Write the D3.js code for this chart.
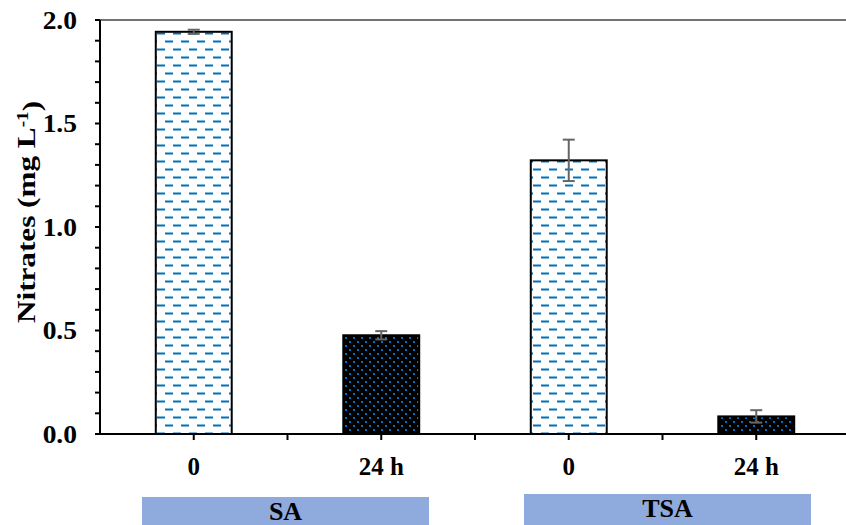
<!DOCTYPE html>
<html>
<head>
<meta charset="utf-8">
<script src="https://cdn.jsdelivr.net/npm/d3@7"></script>
<style>
  html, body { margin: 0; padding: 0; background: #fff; }
  svg { display: block; }
  text { font-family: "Liberation Serif", "Times New Roman", serif; font-weight: bold; fill: #000; }
</style>
</head>
<body>
<svg id="chart" width="846" height="525"></svg>
<script>
// Nitrate concentration at 0 h and 24 h for the two treatments
const categories = ["0", "24 h", "0", "24 h"];
const groups = ["SA", "TSA"];
const values = [1.943, 0.477, 1.322, 0.085];
const errors = [0.01, 0.02, 0.10, 0.03];
const yTicks = [0.0, 0.5, 1.0, 1.5, 2.0];

const svg = d3.select("#chart");
const plotLeft = 100, plotRight = 850, plotTop = 20, plotBottom = 434;

const idx = categories.map((_, i) => i);
const x = d3.scaleBand().domain(idx).range([plotLeft, plotRight])
  .paddingInner(0.595).paddingOuter(0.2975);
const y = d3.scaleLinear().domain([0, 2]).range([plotBottom, plotTop]);

// Fill patterns: blue dashes on white, blue dots on black
const defs = svg.append("defs");
const dash = defs.append("pattern").attr("id", "dashes")
  .attr("patternUnits", "userSpaceOnUse").attr("width", 16).attr("height", 16)
  .attr("x", 13).attr("y", 0.5);
dash.append("rect").attr("width", 16).attr("height", 16).attr("fill", "#fff");
dash.append("rect").attr("x", 0).attr("y", 0).attr("width", 8).attr("height", 2).attr("fill", "#0070C0");
dash.append("rect").attr("x", 8).attr("y", 8).attr("width", 8).attr("height", 2).attr("fill", "#0070C0");

const dots = defs.append("pattern").attr("id", "dots")
  .attr("patternUnits", "userSpaceOnUse").attr("width", 8).attr("height", 8)
  .attr("x", 1).attr("y", 1);
dots.append("rect").attr("width", 8).attr("height", 8).attr("fill", "#000");
dots.append("rect").attr("x", 0).attr("y", 0).attr("width", 2).attr("height", 2).attr("fill", "#0070C0");
dots.append("rect").attr("x", 4).attr("y", 4).attr("width", 2).attr("height", 2).attr("fill", "#0070C0");

// Top frame line
svg.append("line").attr("x1", plotLeft).attr("x2", 846).attr("y1", y(2)).attr("y2", y(2))
  .attr("stroke", "#444").attr("stroke-width", 1.5);

// Bars
svg.append("g").selectAll("rect").data(idx).join("rect")
  .attr("x", i => x(i)).attr("width", x.bandwidth())
  .attr("y", i => y(values[i])).attr("height", i => y(0) - y(values[i]))
  .attr("fill", i => categories[i] === "0" ? "url(#dashes)" : "url(#dots)")
  .attr("stroke", "#000").attr("stroke-width", 2);

// Error bars
const eb = svg.append("g").attr("stroke", "#666").attr("stroke-width", 2);
idx.forEach(i => {
  const cx = x(i) + x.bandwidth() / 2;
  const y1 = y(values[i] + errors[i]), y2 = y(values[i] - errors[i]);
  eb.append("line").attr("x1", cx).attr("x2", cx).attr("y1", y1).attr("y2", y2);
  eb.append("line").attr("x1", cx - 6).attr("x2", cx + 6).attr("y1", y1).attr("y2", y1);
  eb.append("line").attr("x1", cx - 6).attr("x2", cx + 6).attr("y1", y2).attr("y2", y2);
});

// Y axis with minor ticks every 0.1
const yAxis = svg.append("g").attr("transform", `translate(${plotLeft},0)`);
yAxis.append("line").attr("x1", 0).attr("x2", 0).attr("y1", y(2)).attr("y2", y(0))
  .attr("stroke", "#000").attr("stroke-width", 2);
yAxis.selectAll(".mt").data(d3.range(0, 21)).join("line")
  .attr("x1", -5).attr("x2", 0)
  .attr("y1", d => y(d / 10)).attr("y2", d => y(d / 10))
  .attr("stroke", "#000").attr("stroke-width", 2);
yAxis.selectAll(".tl").data(yTicks).join("text")
  .attr("transform", d => `translate(-23,${y(d)}) scale(1.1,1)`)
  .attr("dy", "0.35em")
  .attr("text-anchor", "end").style("font-size", "25px")
  .text(d => d.toFixed(1));

// X axis: ticks at category centres and boundaries
const xAxis = svg.append("g").attr("transform", `translate(0,${plotBottom})`);
xAxis.append("line").attr("x1", plotLeft).attr("x2", 846).attr("y1", 0).attr("y2", 0)
  .attr("stroke", "#000").attr("stroke-width", 2);
const tickXs = [];
idx.forEach(i => {
  tickXs.push(x(i) + x.bandwidth() / 2);
  if (i > 0) tickXs.push(x(i) - (x.step() - x.bandwidth()) / 2);
});
xAxis.selectAll(".xt").data(tickXs).join("line")
  .attr("x1", d => d).attr("x2", d => d).attr("y1", 0).attr("y2", 6)
  .attr("stroke", "#000").attr("stroke-width", 2);
xAxis.selectAll(".xl").data(idx).join("text")
  .attr("x", i => x(i) + x.bandwidth() / 2).attr("y", 41)
  .attr("text-anchor", "middle").style("font-size", "25px")
  .text(i => categories[i]);

// Group label boxes under each pair of categories
const boxTops = [497, 494];
const boxShift = [-2, 5];
const gl = svg.append("g");
groups.forEach((g, k) => {
  const a = x(2 * k) + x.bandwidth() / 2, b = x(2 * k + 1) + x.bandwidth() / 2;
  const c = (a + b) / 2 + boxShift[k];
  gl.append("rect").attr("x", c - 143.5).attr("width", 287)
    .attr("y", boxTops[k]).attr("height", 40).attr("fill", "#8FAADC");
  gl.append("text").attr("x", c).attr("y", boxTops[k] + 23)
    .attr("text-anchor", "middle").style("font-size", "26px").text(g);
});

// Y axis title (slightly widened along its baseline)
const yt = svg.append("text")
  .attr("transform", `translate(35,${(y(0) + y(2)) / 2 - 15}) rotate(-90) scale(1.2,1)`)
  .attr("text-anchor", "middle").style("font-size", "26px");
yt.append("tspan").text("Nitrates (mg L");
yt.append("tspan").attr("dy", "-0.45em").style("font-size", "16px").text("-1");
yt.append("tspan").attr("dy", "0.45em").text(")");
</script>
</body>
</html>
